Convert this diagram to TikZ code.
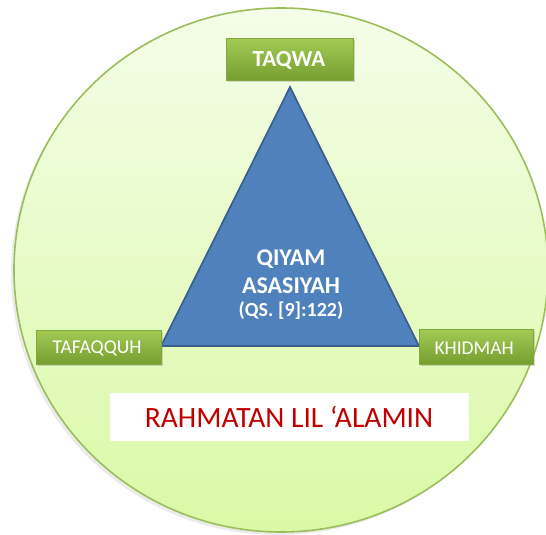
\documentclass[tikz,border=0pt]{standalone}
\usepackage{fontspec}
\setmainfont{Carlito}
\usetikzlibrary{shadows,fadings}
\definecolor{ringedge}{RGB}{155,190,90}
\definecolor{ringtop}{RGB}{244,253,232}
\definecolor{ringbot}{RGB}{218,249,166}
\definecolor{boxtop}{RGB}{162,202,84}
\definecolor{boxbot}{RGB}{118,158,48}
\definecolor{boxedge}{RGB}{128,168,60}
\definecolor{trifill}{RGB}{79,129,189}
\definecolor{triedge}{RGB}{56,93,138}
\definecolor{motto}{RGB}{192,0,0}
\tikzset{
  greenbox/.style={draw=boxedge, line width=0.6pt, top color=boxtop, bottom color=boxbot,
    text=white, inner sep=0pt, anchor=north west,
    drop shadow={shadow xshift=1.5pt, shadow yshift=-2pt, opacity=0.3}},
  lbl/.style={text=white, font=\fontsize{19.5}{21}\selectfont},
  ctr/.style={text=white, font=\fontsize{24}{26}\selectfont\bfseries},
}
\begin{document}
\begin{tikzpicture}[x=1pt,y=-1pt]
\useasboundingbox (0,0) rectangle (546,535);
\clip (0,0) rectangle (546,535);
% shadow of the ring
\fill[black, opacity=0.08] (278,273) ellipse [x radius=267, y radius=262];
% ring
\path[draw=ringedge, line width=1.6pt, top color=ringtop, bottom color=ringbot]
  (281,270) ellipse [x radius=267, y radius=262];
% triangle
\coordinate (apex) at (290,87);
\coordinate (bl) at (161,346);
\coordinate (br) at (419,346);
\path[fill=trifill, draw=triedge, line width=1.6pt, line join=miter] (apex) -- (bl) -- (br) -- cycle;
% center text
\node[ctr] (q1) at (291,259) {QIYAM};
\node[ctr] (q2) at (291,286) {ASASIYAH};
\node[text=white, font=\fontsize{20}{22}\selectfont\bfseries] (q3) at (291,311) {(QS. [9]:122)};
% boxes
\node[greenbox, minimum width=127, minimum height=42] (taqwa) at (226,38) {};
\node[text=white, font=\fontsize{23}{25}\selectfont\bfseries] (taqwat) at (289,60) {TAQWA};
\node[greenbox, minimum width=125, minimum height=34] (tafa) at (36,330) {};
\node[lbl, anchor=west] (tafat) at (49,348) {TAFAQQUH};
\node[greenbox, minimum width=114, minimum height=35] (khid) at (419,329) {};
\node[lbl, anchor=west] (khidt) at (431,348) {KHIDMAH};
% motto box
\node[fill=white, minimum width=359, minimum height=48, anchor=north west, inner sep=0pt] (mottobox) at (110,393) {};
\node[text=motto, font=\fontsize{29.5}{31}\selectfont] (mottot) at (289,417) {RAHMATAN LIL ‘ALAMIN};
\end{tikzpicture}
\end{document}
